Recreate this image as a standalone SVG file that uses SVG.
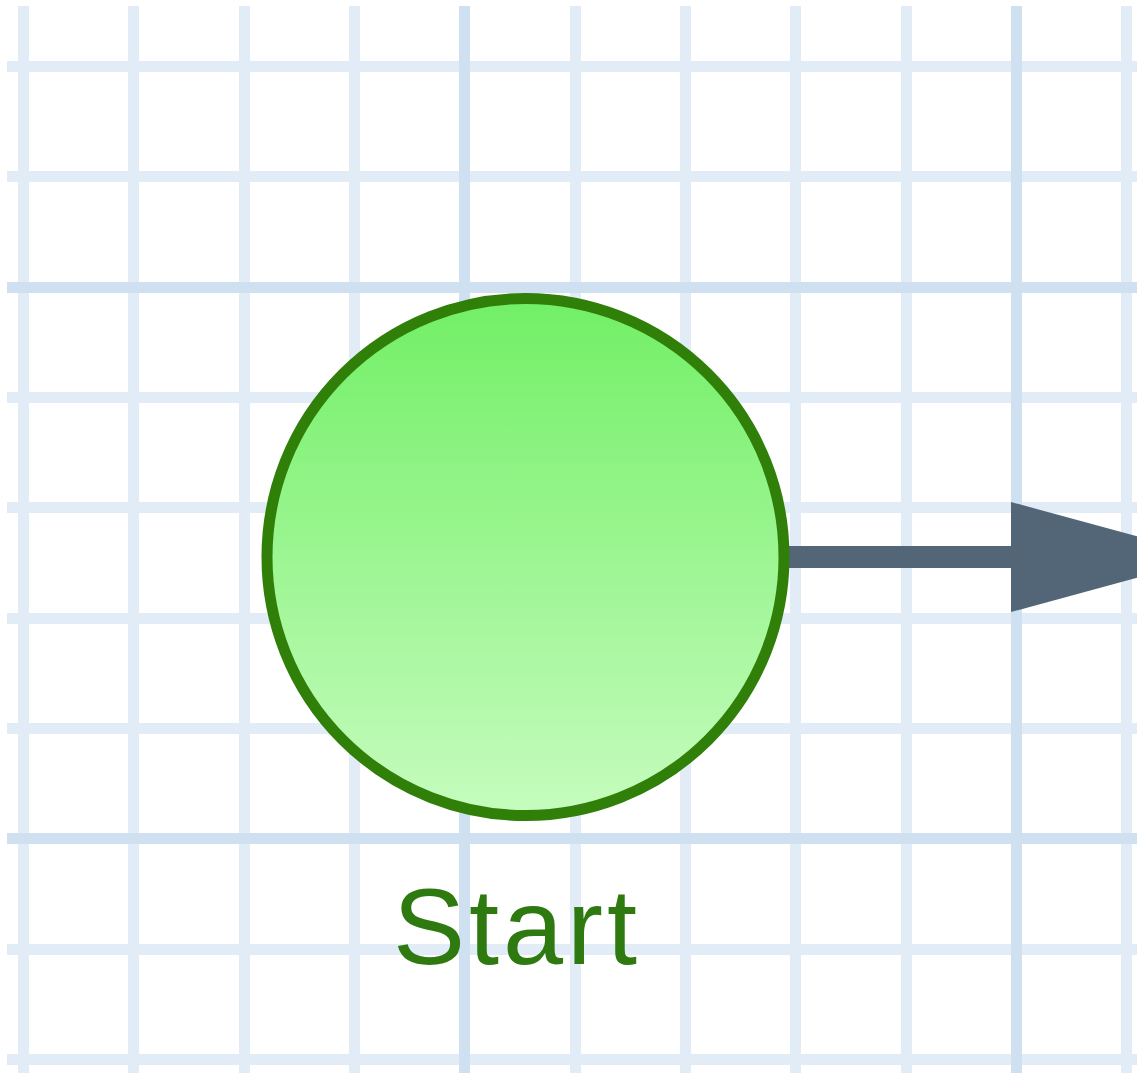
<svg xmlns="http://www.w3.org/2000/svg" width="1137" height="1073" viewBox="0 0 1137 1073">
  <style>
    .minor { stroke: #e2ecf7; stroke-width: 11; }
    .major { stroke: #cfe0f1; stroke-width: 11; }
    .edge { stroke: #536677; stroke-width: 22; fill: none; }
    .label { font-family: "Liberation Sans", Arial, sans-serif; font-size: 108px; fill: #2f7a10; text-anchor: middle; letter-spacing: 4px; }
  </style>
  <defs>
    <linearGradient id="startFill" x1="0" y1="0" x2="0" y2="1">
      <stop offset="0" stop-color="#72ef66"/>
      <stop offset="1" stop-color="#c6fcbe"/>
    </linearGradient>
    <marker id="arrow" markerUnits="userSpaceOnUse" markerWidth="204" markerHeight="110" refX="2" refY="55" orient="auto" overflow="visible">
      <path d="M0,0 L202,55 L0,110 Z" fill="#536677"/>
    </marker>
  </defs>
  <rect width="1137" height="1073" fill="#ffffff"/>
  <g id="grid">
    <g class="minor">
      <line x1="23.5" y1="6" x2="23.5" y2="1073"/>
      <line x1="133.5" y1="6" x2="133.5" y2="1073"/>
      <line x1="244.5" y1="6" x2="244.5" y2="1073"/>
      <line x1="354.5" y1="6" x2="354.5" y2="1073"/>
      <line x1="575.5" y1="6" x2="575.5" y2="1073"/>
      <line x1="685.5" y1="6" x2="685.5" y2="1073"/>
      <line x1="795.5" y1="6" x2="795.5" y2="1073"/>
      <line x1="906.5" y1="6" x2="906.5" y2="1073"/>
      <line x1="1126.5" y1="6" x2="1126.5" y2="1073"/>
      <line x1="7" y1="66.5" x2="1137" y2="66.5"/>
      <line x1="7" y1="176.5" x2="1137" y2="176.5"/>
      <line x1="7" y1="397.5" x2="1137" y2="397.5"/>
      <line x1="7" y1="507.5" x2="1137" y2="507.5"/>
      <line x1="7" y1="618.5" x2="1137" y2="618.5"/>
      <line x1="7" y1="728.5" x2="1137" y2="728.5"/>
      <line x1="7" y1="949.5" x2="1137" y2="949.5"/>
      <line x1="7" y1="1059.5" x2="1137" y2="1059.5"/>
    </g>
    <g class="major">
      <line x1="464.5" y1="6" x2="464.5" y2="1073"/>
      <line x1="1016.5" y1="6" x2="1016.5" y2="1073"/>
      <line x1="7" y1="287.5" x2="1137" y2="287.5"/>
      <line x1="7" y1="838.5" x2="1137" y2="838.5"/>
    </g>
  </g>
  <g id="connectors">
    <path class="edge" d="M785,557 L1013,557" marker-end="url(#arrow)"/>
  </g>
  <g id="start">
    <circle cx="525.5" cy="557" r="258.5" fill="url(#startFill)" stroke="#2f7f08" stroke-width="11"/>
    <text class="label" x="517" y="964">Start</text>
  </g>
</svg>
